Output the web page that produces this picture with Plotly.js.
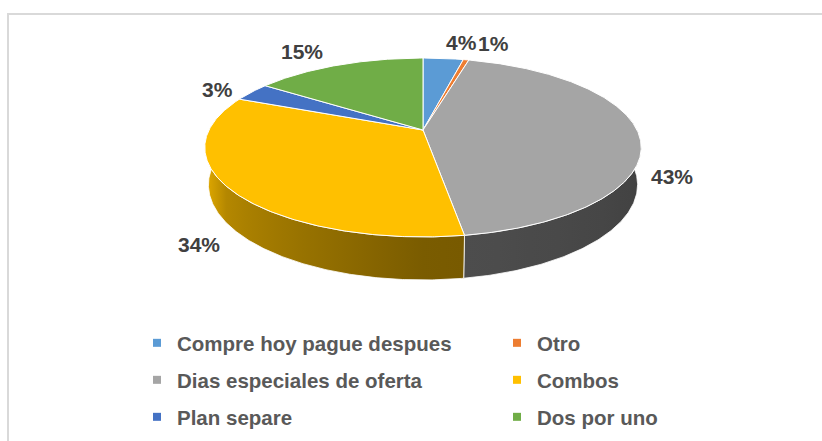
<!DOCTYPE html>
<html>
<head>
<meta charset="utf-8">
<script src="https://cdn.plot.ly/plotly-3.0.1.min.js"></script>
<style>html,body{margin:0;padding:0;background:#fff;}#chart{width:822px;height:441px;}</style>
</head>
<body>
<div id="chart"></div>
<script>
// ---- data ----
const categories = ['Compre hoy pague despues', 'Otro', 'Dias especiales de oferta', 'Combos', 'Plan separe', 'Dos por uno'];
const values = [3.6, 0.5, 43.4, 33.8, 3.4, 15.3];

// ---- styles ----
const colors = ['#5B9BD5', '#ED7D31', '#A5A5A5', '#FFC000', '#4472C4', '#70AD47'];
const labelNudgeX = [15, 20, -6, 8, -3, -23];
const labelNudgeY = [-4, -5, 4, -1, 4, -3];
const legendX = [137, 497, 137, 497, 137, 497];
const legendY = [343, 343, 380, 380, 417, 417];

// ---- 3D pie projection (pixel space) ----
const W = 822, Hpx = 441;
const CX = 423, CY = 130, F = 1002.6, D = 4.685, SA = 0.402, CA = 0.916, DEPTH = 0.189;
function proj(u, v, w) {
  const yc = v * SA + w * CA;
  const z = D + v * CA - w * SA;
  return [CX + F * u / z, CY - F * yc / z];
}
function rim(thetaDeg, r, w) {
  const t = thetaDeg * Math.PI / 180;
  return proj(r * Math.sin(t), r * Math.cos(t), w);
}
function arc(a, b, w) {
  const n = Math.max(2, Math.ceil(Math.abs(b - a) / 0.5));
  const pts = [];
  for (let i = 0; i <= n; i++) pts.push(rim(a + (b - a) * i / n, 1, w));
  return pts;
}
function hexToRgb(h) { return [1, 3, 5].map(i => parseInt(h.substr(i, 2), 16)); }
function shade(h, f) { const c = hexToRgb(h).map(x => Math.round(x * f)); return 'rgb(' + c.join(',') + ')'; }
function light(theta) { // wall lighting, lit from the left
  if (theta >= 180) return 0.48 + (theta - 180) / 90 * 0.37;
  return 0.37 + (theta - 90) / 90 * 0.11;
}

const total = values.reduce((a, b) => a + b, 0);
const starts = [], ends = [];
let acc = 0;
values.forEach(v => { starts.push(acc / total * 360); acc += v; ends.push(acc / total * 360); });

const traces = [];
// side walls
values.forEach((v, i) => {
  const a = Math.max(starts[i], 80), b = Math.min(ends[i], 280);
  if (a >= b) return;
  const top = arc(a, b, 0), bot = arc(b, a, -DEPTH);
  const pts = top.concat(bot); pts.push(top[0]);
  const xs = pts.map(p => p[0]), ys = pts.map(p => p[1]);
  const xmin = Math.min(...xs), xmax = Math.max(...xs);
  const stops = [];
  const n = 12;
  for (let k = 0; k <= n; k++) {
    const th = b - (b - a) * k / n; // leftmost first
    const px = rim(th, 1, 0)[0];
    let s = (px - xmin) / (xmax - xmin);
    s = Math.min(1, Math.max(0, s));
    if (stops.length && s <= stops[stops.length - 1][0]) continue;
    stops.push([s, shade(colors[i], light(th))]);
  }
  stops[0][0] = 0; stops[stops.length - 1][0] = 1;
  traces.push({
    type: 'scatter', mode: 'lines', x: xs, y: ys, fill: 'toself',
    fillgradient: {type: 'horizontal', colorscale: stops},
    line: {color: '#ffffff', width: 0.8}, hoverinfo: 'skip', showlegend: false
  });
});
// top faces
values.forEach((v, i) => {
  const pts = [[CX, CY]].concat(arc(starts[i], ends[i], 0)); pts.push([CX, CY]);
  traces.push({
    type: 'scatter', mode: 'lines', x: pts.map(p => p[0]), y: pts.map(p => p[1]),
    fill: 'toself', fillcolor: colors[i], line: {color: '#ffffff', width: 1},
    hoverinfo: 'skip', showlegend: false
  });
});
// legend entries
const legendFont = {family: 'Liberation Sans, Arial, sans-serif', size: 20.5, color: '#595959', weight: 'bold'};
const layoutLegends = {};
categories.forEach((c, i) => {
  const key = i === 0 ? 'legend' : 'legend' + (i + 1);
  traces.push({
    type: 'scatter', mode: 'markers', x: [null], y: [null], name: c,
    marker: {symbol: 'square', size: 8, color: colors[i]},
    legend: key, showlegend: true, hoverinfo: 'skip'
  });
  layoutLegends[key] = {
    x: legendX[i] / W, y: 1 - legendY[i] / Hpx, xanchor: 'left', yanchor: 'middle',
    orientation: 'h', font: legendFont, bgcolor: 'rgba(0,0,0,0)', borderwidth: 0
  };
});

// percentage labels
const annotations = values.map((v, i) => {
  const mid = (starts[i] + ends[i]) / 2;
  const t = mid * Math.PI / 180;
  const vv = Math.cos(t);
  const p = proj(1.2 * Math.sin(t), 1.2 * vv, vv < 0.1 ? -DEPTH : 0);
  return {
    x: p[0], y: p[1], xref: 'x', yref: 'y', showarrow: false,
    text: Math.round(v / total * 100) + '%',
    xshift: labelNudgeX[i], yshift: -labelNudgeY[i],
    font: {family: 'Liberation Sans, Arial, sans-serif', size: 21, color: '#404040', weight: 'bold'}
  };
});

const layout = Object.assign({
  width: W, height: Hpx, margin: {l: 0, r: 0, t: 0, b: 0},
  paper_bgcolor: '#ffffff', plot_bgcolor: 'rgba(0,0,0,0)',
  xaxis: {range: [0, W], visible: false, fixedrange: true},
  yaxis: {range: [Hpx, 0], visible: false, fixedrange: true},
  showlegend: true, hovermode: false,
  annotations: annotations,
  shapes: [{type: 'rect', xref: 'x', yref: 'y', x0: 8, y0: 14, x1: 840, y1: 460,
            line: {color: '#d9d9d9', width: 2}, layer: 'below'}]
}, layoutLegends);

Plotly.newPlot('chart', traces, layout, {displayModeBar: false, staticPlot: true});
</script>
</body>
</html>
